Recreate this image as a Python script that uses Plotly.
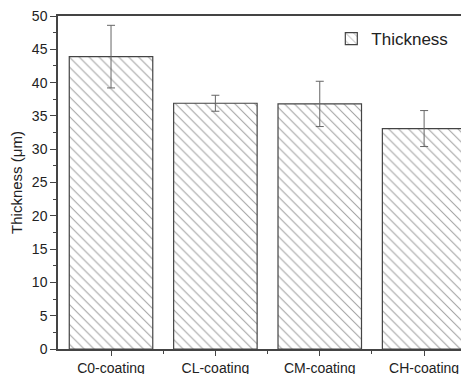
import plotly.graph_objects as go

categories = ["C0-coating", "CL-coating", "CM-coating", "CH-coating"]
thickness = [43.9, 36.9, 36.8, 33.1]
errors = [4.7, 1.2, 3.4, 2.7]
y_ticks = [0, 5, 10, 15, 20, 25, 30, 35, 40, 45, 50]

xpos = list(range(len(categories)))

fig = go.Figure()
fig.add_trace(go.Bar(
    x=xpos, y=thickness, width=0.8, name="Thickness",
    marker=dict(color="white", line=dict(color="#444", width=1.2),
                pattern=dict(shape="\\", size=7, solidity=0.15,
                             fgcolor="#444", bgcolor="white")),
    error_y=dict(type="data", array=errors, visible=True,
                 color="#666", thickness=1, width=4),
))

# page body adds an 8px offset, so margins are reduced accordingly
fig.update_layout(
    width=469, height=374,
    margin=dict(l=50, r=8, t=8, b=33, autoexpand=False),
    plot_bgcolor="white", paper_bgcolor="white",
    font=dict(family="Liberation Sans, Arial, sans-serif", color="#222", size=14),
    showlegend=True,
    legend=dict(x=0.665, y=0.985, xanchor="left", yanchor="top",
                bgcolor="rgba(0,0,0,0)", font=dict(size=17)),
    bargap=0.2,
)
fig.update_xaxes(
    range=[-0.508, 3.43], tickmode="array", tickvals=xpos, ticktext=categories,
    showline=True, linecolor="#444", linewidth=1.5, mirror=True, automargin=False,
    ticks="outside", ticklen=5, tickcolor="#444", showgrid=False, zeroline=False,
    tickfont=dict(size=14), ticklabelstandoff=0, ticklabeloverflow="allow",
    minor=dict(tickvals=[0.5, 1.5, 2.5], ticks="outside", ticklen=3, tickcolor="#444"),
)
fig.update_yaxes(
    range=[0, 50], tickmode="array", tickvals=y_ticks, automargin=False,
    showline=True, linecolor="#444", linewidth=1.5,
    ticks="outside", ticklen=6, tickcolor="#444", showgrid=False, zeroline=False,
    ticklabeloverflow="allow",
    minor=dict(dtick=2.5, ticks="outside", ticklen=3, tickcolor="#444"),
    title=dict(text="Thickness (μm)", font=dict(size=15), standoff=8),
)

fig.write_html("out.html")
